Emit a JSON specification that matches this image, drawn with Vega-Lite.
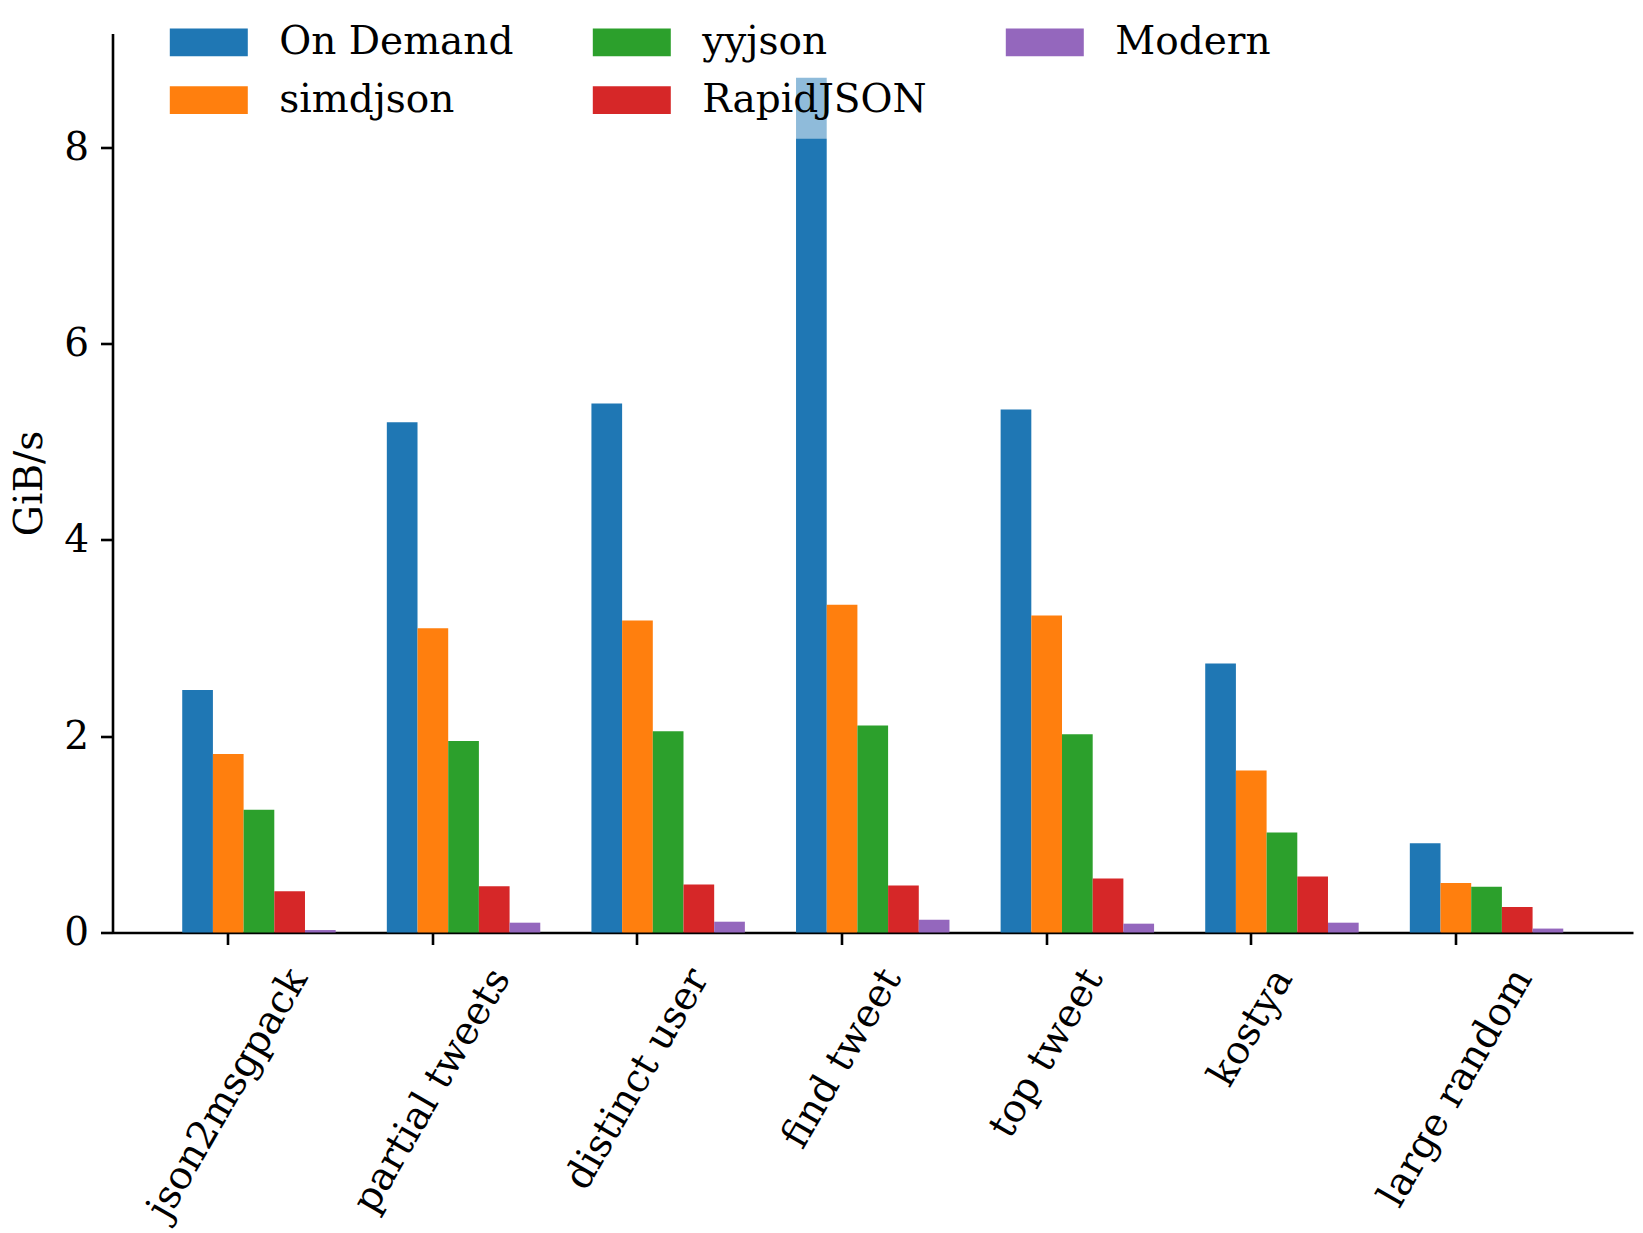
{
  "$schema": "https://vega.github.io/schema/vega-lite/v6.json",
  "width": 1520.5,
  "height": 899,
  "autosize": {"type": "none"},
  "padding": {"left": 112.5, "top": 33.5, "right": 10, "bottom": 300.5},
  "background": "white",
  "config": {
    "font": "DejaVu Serif",
    "view": {"stroke": null},
    "axis": {"grid": false, "labelColor": "black", "tickColor": "black", "domainColor": "black", "titleColor": "black"}
  },
  "data": {
    "values": [
      {"bench": "json2msgpack", "impl": "On Demand", "v": 2.47},
      {"bench": "json2msgpack", "impl": "simdjson", "v": 1.82},
      {"bench": "json2msgpack", "impl": "yyjson", "v": 1.25},
      {"bench": "json2msgpack", "impl": "RapidJSON", "v": 0.42},
      {"bench": "json2msgpack", "impl": "Modern", "v": 0.025},
      {"bench": "partial tweets", "impl": "On Demand", "v": 5.2},
      {"bench": "partial tweets", "impl": "simdjson", "v": 3.1},
      {"bench": "partial tweets", "impl": "yyjson", "v": 1.95},
      {"bench": "partial tweets", "impl": "RapidJSON", "v": 0.47},
      {"bench": "partial tweets", "impl": "Modern", "v": 0.1},
      {"bench": "distinct user", "impl": "On Demand", "v": 5.39},
      {"bench": "distinct user", "impl": "simdjson", "v": 3.18},
      {"bench": "distinct user", "impl": "yyjson", "v": 2.05},
      {"bench": "distinct user", "impl": "RapidJSON", "v": 0.49},
      {"bench": "distinct user", "impl": "Modern", "v": 0.11},
      {"bench": "find tweet", "impl": "On Demand", "v": 8.71},
      {"bench": "find tweet", "impl": "simdjson", "v": 3.34},
      {"bench": "find tweet", "impl": "yyjson", "v": 2.11},
      {"bench": "find tweet", "impl": "RapidJSON", "v": 0.48},
      {"bench": "find tweet", "impl": "Modern", "v": 0.13},
      {"bench": "top tweet", "impl": "On Demand", "v": 5.33},
      {"bench": "top tweet", "impl": "simdjson", "v": 3.23},
      {"bench": "top tweet", "impl": "yyjson", "v": 2.02},
      {"bench": "top tweet", "impl": "RapidJSON", "v": 0.55},
      {"bench": "top tweet", "impl": "Modern", "v": 0.09},
      {"bench": "kostya", "impl": "On Demand", "v": 2.74},
      {"bench": "kostya", "impl": "simdjson", "v": 1.65},
      {"bench": "kostya", "impl": "yyjson", "v": 1.02},
      {"bench": "kostya", "impl": "RapidJSON", "v": 0.57},
      {"bench": "kostya", "impl": "Modern", "v": 0.1},
      {"bench": "large random", "impl": "On Demand", "v": 0.91},
      {"bench": "large random", "impl": "simdjson", "v": 0.505},
      {"bench": "large random", "impl": "yyjson", "v": 0.467},
      {"bench": "large random", "impl": "RapidJSON", "v": 0.26},
      {"bench": "large random", "impl": "Modern", "v": 0.04}
    ]
  },
  "mark": {"type": "bar"},
  "encoding": {
    "x": {
      "field": "bench",
      "type": "nominal",
      "sort": ["json2msgpack", "partial tweets", "distinct user", "find tweet", "top tweet", "kostya", "large random"],
      "scale": {"paddingInner": 0.25, "paddingOuter": 0.3408},
      "axis": {
        "title": null,
        "bandPosition": 0.3,
        "labelAngle": -60,
        "labelAlign": "right",
        "labelBaseline": "middle",
        "labelFontSize": 39,
        "labelPadding": 27,
        "labelLimit": 1000,
        "labelOverlap": false,
        "tickSize": 12,
        "tickWidth": 2.6,
        "domainWidth": 2.6,
        "labelOffset": {
          "condition": [
            {"test": "datum.value === 'json2msgpack'", "value": 39},
            {"test": "datum.value === 'partial tweets'", "value": 37},
            {"test": "datum.value === 'distinct user'", "value": 31},
            {"test": "datum.value === 'find tweet'", "value": 19},
            {"test": "datum.value === 'top tweet'", "value": 16},
            {"test": "datum.value === 'kostya'", "value": 1}
          ],
          "value": 36
        }
      }
    },
    "xOffset": {
      "field": "impl",
      "type": "nominal",
      "sort": ["On Demand", "simdjson", "yyjson", "RapidJSON", "Modern"]
    },
    "y": {
      "field": "v",
      "type": "quantitative",
      "scale": {"domain": [0, 9.16], "nice": false},
      "axis": {
        "title": "GiB/s",
        "titleFontSize": 39,
        "titleFontWeight": "normal",
        "titlePadding": 14,
        "values": [0, 2, 4, 6, 8],
        "labelFontSize": 39,
        "labelPadding": 12,
        "tickSize": 12,
        "tickWidth": 2.6,
        "domainWidth": 2.6
      }
    },
    "color": {
      "field": "impl",
      "type": "nominal",
      "scale": {
        "domain": ["On Demand", "simdjson", "yyjson", "RapidJSON", "Modern"],
        "range": ["#1f77b4", "#ff7f0e", "#2ca02c", "#d62728", "#9467bd"]
      },
      "legend": {
        "title": null,
        "orient": "none",
        "legendX": 33.8,
        "legendY": -28.8,
        "columns": 3,
        "columnPadding": 73,
        "rowPadding": 18,
        "padding": 18,
        "fillColor": "rgba(255,255,255,0.5)",
        "strokeColor": null,
        "symbolType": "M-1,-0.99L4.571,-0.99L4.571,0.99L-1,0.99Z",
        "symbolSize": 784,
        "symbolStrokeWidth": 0,
        "symbolOpacity": 1,
        "labelFontSize": 39,
        "labelColor": "black",
        "labelOffset": 76,
        "labelLimit": 1000
      }
    }
  }
}
